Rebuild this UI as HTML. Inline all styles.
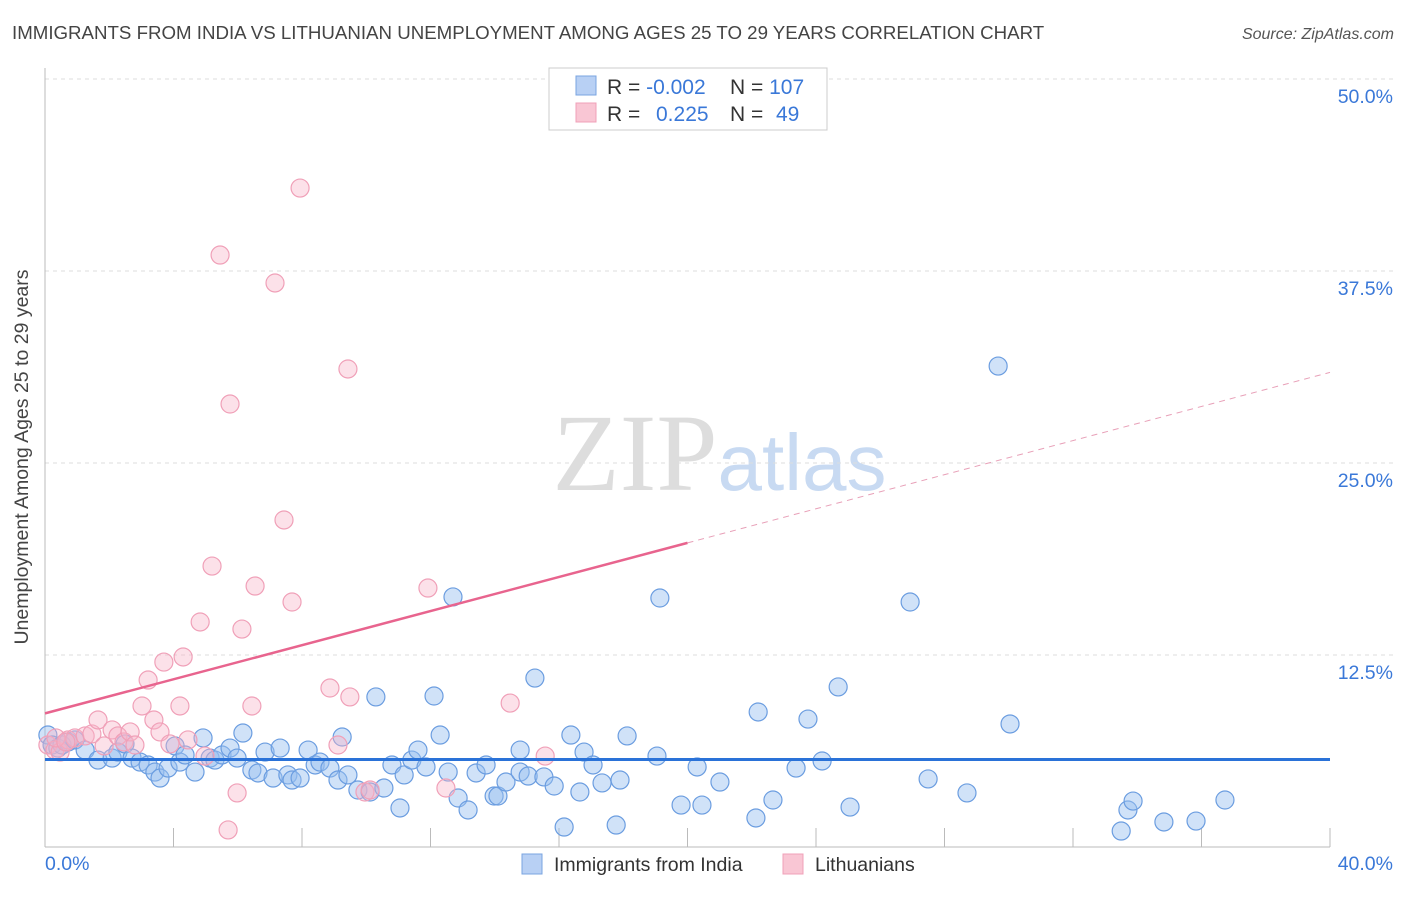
<!DOCTYPE html>
<html><head><meta charset="utf-8"><style>
body{margin:0;background:#fff;font-family:"Liberation Sans",sans-serif}
svg text{font-family:"Liberation Sans",sans-serif}
</style></head><body>
<svg id="c" width="1406" height="892">
<text x="12" y="39" font-size="18.7" fill="#444">IMMIGRANTS FROM INDIA VS LITHUANIAN UNEMPLOYMENT AMONG AGES 25 TO 29 YEARS CORRELATION CHART</text>
<text x="1394" y="39" font-size="16" fill="#555" font-style="italic" text-anchor="end">Source: ZipAtlas.com</text>
<text x="635" y="490" font-size="110" fill="#ddd" text-anchor="middle" style="font-family:'Liberation Serif',serif">ZIP</text>
<text x="802" y="490" font-size="80" fill="#c8daf2" text-anchor="middle">atlas</text>
<g id="grid"></g><g id="axes"></g><g id="pts"></g><g id="trend"></g>
<text x="28" y="457" font-size="19.5" fill="#444" text-anchor="middle" transform="rotate(-90 28 457)">Unemployment Among Ages 25 to 29 years</text>
<g>
<rect x="549" y="68" width="278" height="62" fill="#fff" stroke="#ccc"/>
<rect x="576" y="76" width="20" height="19" fill="#b8d0f4" stroke="#7aa4e0"/>
<rect x="576" y="103" width="20" height="19" fill="#f9c6d4" stroke="#f0a0b8"/>
<text x="607" y="94" font-size="21" fill="#333">R = <tspan fill="#3a78d8">-0.002</tspan></text>
<text x="730" y="94" font-size="21" fill="#333">N = <tspan fill="#3a78d8">107</tspan></text>
<text x="607" y="121" font-size="21" fill="#333">R = <tspan fill="#3a78d8" x="656">0.225</tspan></text>
<text x="730" y="121" font-size="21" fill="#333">N = <tspan fill="#3a78d8" x="776">49</tspan></text>
</g>
<g>
<rect x="522" y="854" width="20" height="20" fill="#b8d0f4" stroke="#7aa4e0"/>
<text x="554" y="871" font-size="19.5" fill="#333">Immigrants from India</text>
<rect x="783" y="854" width="20" height="20" fill="#f9c6d4" stroke="#f0a0b8"/>
<text x="815" y="871" font-size="19.5" fill="#333">Lithuanians</text>
</g>
</svg>
<script>
const blueX=[0.09,0.22,0.40,0.53,0.72,0.93,1.25,1.65,2.09,2.27,2.49,2.71,2.96,3.21,3.42,3.58,3.83,4.05,4.20,4.36,4.67,4.92,5.14,5.29,5.51,5.76,5.98,6.16,6.44,6.63,6.85,7.10,7.32,7.56,7.69,7.94,8.19,8.41,8.56,8.87,9.12,9.25,9.43,9.74,10.12,10.30,10.55,10.80,11.05,11.18,11.42,11.61,11.86,12.11,12.30,12.55,12.70,12.86,13.17,13.42,13.73,13.98,14.10,14.35,14.79,14.79,15.04,15.25,15.53,15.85,16.16,16.37,16.65,16.78,17.06,17.34,17.78,17.90,18.12,19.05,19.14,19.80,20.30,20.45,21.01,22.13,22.20,22.66,23.38,23.75,24.19,24.69,25.06,26.93,27.49,28.70,29.67,30.04,33.50,33.71,33.87,34.83,35.83,36.73];
const blueY=[7.29,6.64,6.44,6.64,6.84,6.97,6.31,5.66,5.79,6.18,6.71,5.79,5.53,5.34,4.88,4.49,5.14,6.58,5.53,5.99,4.88,7.10,5.79,5.66,5.99,6.44,5.79,7.42,5.01,4.82,6.18,4.49,6.44,4.69,4.36,4.49,6.31,5.34,5.53,5.14,4.36,7.16,4.69,3.71,3.58,9.77,3.84,5.34,2.54,4.69,5.66,6.31,5.21,9.83,7.29,4.88,16.28,3.19,2.41,4.82,5.34,3.32,3.32,4.23,4.88,6.31,4.62,11.00,4.56,3.97,1.30,7.29,3.58,6.18,5.34,4.17,1.43,4.36,7.23,5.92,16.21,2.73,5.21,2.73,4.23,1.89,8.79,3.06,5.14,8.33,5.60,10.42,2.60,15.95,4.43,3.52,31.31,8.01,1.04,2.41,2.99,1.63,1.69,3.06];
const pinkX=[0.09,0.31,0.47,0.72,0.93,1.25,1.46,1.65,1.84,2.09,2.27,2.46,2.65,2.80,3.02,3.21,3.39,3.58,3.70,3.89,4.20,4.30,4.45,4.83,4.98,5.20,5.45,5.70,5.76,5.98,6.13,6.44,6.54,7.16,7.44,7.69,7.94,8.87,9.12,9.43,9.49,9.96,11.92,12.48,14.48,15.57,10.12,0.34,0.65];
const pinkY=[6.64,6.31,6.18,6.97,7.10,7.23,7.36,8.27,6.58,7.62,7.23,6.84,7.49,6.64,9.18,10.87,8.27,7.49,12.04,6.71,9.18,12.37,6.97,14.65,5.92,18.29,38.54,1.11,28.84,3.52,14.19,9.18,16.99,36.72,21.29,15.95,42.90,10.35,6.64,31.12,9.77,3.58,16.86,3.84,9.37,5.92,3.71,7.10,6.84];
const blueTrend=[5.7,5.7];
const pinkTrend=[8.7,30.9];
const yTicks=[12.5,25,37.5,50];
const yTickLabels=["12.5%","25.0%","37.5%","50.0%"];
const xTicks=[4,8,12,16,20,24,28,32,36,40];
const X=v=>45+v*(1285/40), Y=v=>847-v*15.36;
const NS="http://www.w3.org/2000/svg";
function mk(p,t,a){const e=document.createElementNS(NS,t);for(const k in a)e.setAttribute(k,a[k]);p.appendChild(e);return e;}
const g=document.getElementById('grid'),ax=document.getElementById('axes'),pts=document.getElementById('pts'),tr=document.getElementById('trend');
yTicks.forEach((t,i)=>{
 const l=mk(g,'line',{x1:45,x2:1393,y1:Y(t),y2:Y(t),stroke:'#ddd','stroke-dasharray':'4,4'});
 
 
 const tx=mk(g,'text',{x:1393,y:Y(t)+24,'font-size':19.5,fill:'#3a78d8','text-anchor':'end'});
 tx.textContent=yTickLabels[i];
 
 
});
mk(ax,'line',{x1:45,x2:45,y1:68,y2:847,stroke:'#bbb'});
mk(ax,'line',{x1:45,x2:1330,y1:847,y2:847,stroke:'#bbb'});
xTicks.forEach(t=>{const l=mk(ax,'line',{x1:X(t),x2:X(t),y1:828,y2:847,stroke:'#bbb'});
 
 });
let a=mk(ax,'text',{x:45,y:870,'font-size':19.5,fill:'#3a78d8'});a.textContent='0.0%';


a=mk(ax,'text',{x:1393,y:870,'font-size':19.5,fill:'#3a78d8','text-anchor':'end'});a.textContent='40.0%';


blueX.forEach((x,i)=>{const c=mk(pts,'circle',{cx:X(x),cy:Y(blueY[i]),r:9,fill:'rgba(150,190,240,0.45)',stroke:'#6b9de0','stroke-width':1.2});
 
 });
pinkX.forEach((x,i)=>{const c=mk(pts,'circle',{cx:X(x),cy:Y(pinkY[i]),r:9,fill:'rgba(248,180,200,0.4)',stroke:'#f0a0b8','stroke-width':1.2});
 
 });
let l=mk(tr,'line',{x1:X(0),x2:X(40),y1:Y(blueTrend[0]),y2:Y(blueTrend[1]),stroke:'#2a72d8','stroke-width':3});


const pm=(pinkTrend[0]+pinkTrend[1])/2;
l=mk(tr,'line',{x1:X(0),x2:X(20),y1:Y(pinkTrend[0]),y2:Y(pm),stroke:'#e8648e','stroke-width':2.5});


l=mk(tr,'line',{x1:X(20),x2:X(40),y1:Y(pm),y2:Y(pinkTrend[1]),stroke:'#e8a0b8','stroke-width':1,'stroke-dasharray':'6,5'});


</script>
</body></html>
